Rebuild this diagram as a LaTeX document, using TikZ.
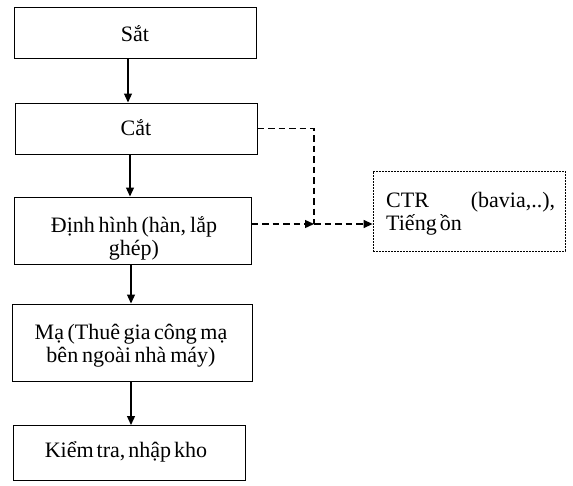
\documentclass[tikz,border=0pt]{standalone}
\usepackage{fontspec}
\setmainfont[WordSpace=0.55]{Liberation Serif}
\usetikzlibrary{arrows.meta}
\begin{document}
\begin{tikzpicture}[x=1pt,y=-1pt,
  box/.style={draw,line width=1pt,inner sep=0pt},
  dbox/.style={draw,line width=0.8pt,dash pattern=on 2pt off 1pt,inner sep=0pt},
  txt/.style={font=\fontsize{22}{23}\selectfont,inner sep=0pt,
    execute at begin node={\spaceskip=3pt plus 1pt minus .5pt\relax}},
  arr/.style={line width=1.3pt,-{Triangle[length=9pt,width=8pt]}},
  dsh/.style={line width=1.3pt,dash pattern=on 6.5pt off 4pt},
  darr/.style={-{Triangle[length=9pt,width=8pt]}}]
\useasboundingbox (0,0) rectangle (573,485);
% boxes
\node[box,minimum width=242pt,minimum height=51pt] (sat) at (135,32.5) {};
\node[box,minimum width=242pt,minimum height=51pt] (cat) at (136,128.5) {};
\node[box,minimum width=237pt,minimum height=67pt] (dinh) at (132.5,230.5) {};
\node[box,minimum width=240pt,minimum height=77pt] (ma) at (132,342.5) {};
\node[box,minimum width=232pt,minimum height=55pt] (kiem) at (129,453) {};
\node[dbox,minimum width=192pt,minimum height=80pt] (ctr) at (469,211) {};
% texts
\node[txt,anchor=base] (satT) at (135,41.5) {Sắt};
\node[txt,anchor=base] (catT) at (136,135) {Cắt};
\node[txt,anchor=base,text width=237pt,align=center] (dinhT) at (134,232) {Định hình (hàn, lắp\\ghép)};
\node[txt,anchor=base,text width=240pt,align=center] (maT) at (131,339) {Mạ (Thuê gia công mạ\\bên ngoài nhà máy)};
\node[txt,anchor=base] (kiemT) at (126,457) {Kiểm tra, nhập kho};
\node[txt,anchor=base west,text width=169pt,align=left] (ctrT) at (386,207) {CTR\hfill(bavia,..),\\Tiếng ồn};
% columns for vertical arrows
\coordinate (c1) at (128,0);
\coordinate (c2) at (130,0);
\coordinate (c3) at (131,0);
\draw[arr] (sat.south -| c1) -- (cat.north -| c1);
\draw[arr] (cat.south -| c2) -- (dinh.north -| c2);
\draw[arr] (dinh.south -| c3) -- (ma.north -| c3);
\draw[arr] (ma.south -| c3) -- (kiem.north -| c3);
% dashed connectors
\coordinate (j) at (314,224);
\draw[dsh] (cat.east) -| (j);
\draw[dsh,darr] (dinh.east |- j) -- (j);
\draw[dsh,darr] (j) -- (ctr.west |- j);
\end{tikzpicture}
\end{document}
